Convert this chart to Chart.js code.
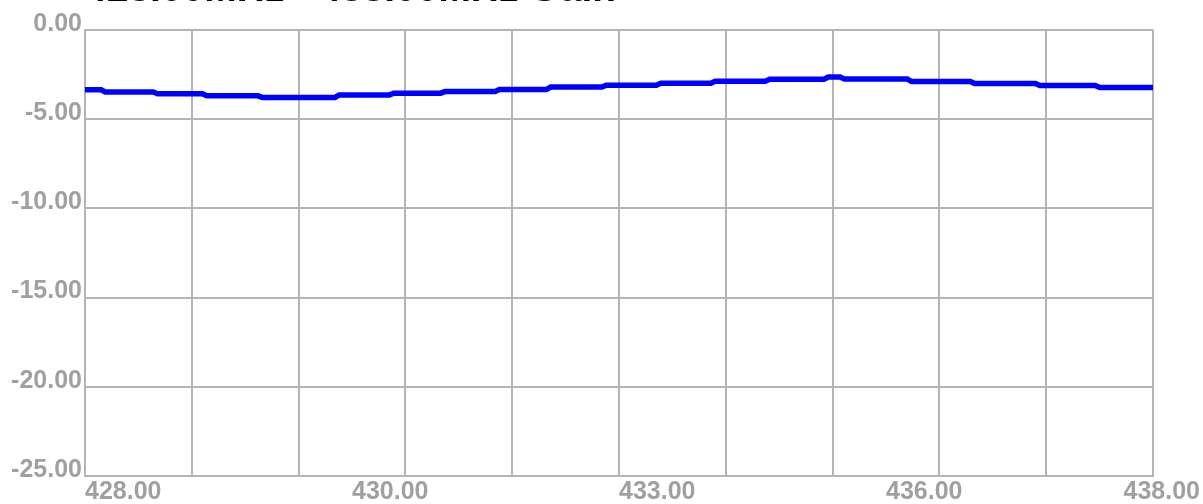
<!DOCTYPE html>
<html>
<head>
<meta charset="utf-8">
<script src="https://cdn.jsdelivr.net/npm/chart.js@4"></script>
<style>
  html, body { margin: 0; padding: 0; background: #ffffff; }
  #wrap { width: 1203px; height: 504px; }
</style>
</head>
<body>
<div id="wrap"><canvas id="c" width="1203" height="504"></canvas></div>
<script>
// ---- data ----
const titleText = "428.00MHz - 438.00MHz Gain";
const freqs = [428.00, 428.15, 428.19, 428.64, 428.68, 429.10, 429.14, 429.62, 429.66, 430.34,
               430.38, 430.85, 430.89, 431.33, 431.37, 431.84, 431.88, 432.32, 432.36, 432.84,
               432.88, 433.35, 433.39, 433.86, 433.90, 434.37, 434.41, 434.92, 434.96, 435.07,
               435.11, 435.70, 435.74, 436.29, 436.33, 436.90, 436.94, 437.46, 437.50, 438.00];
const gains = [-3.36, -3.36, -3.48, -3.48, -3.59, -3.59, -3.70, -3.70, -3.79, -3.79,
               -3.66, -3.66, -3.55, -3.55, -3.46, -3.46, -3.35, -3.35, -3.21, -3.21,
               -3.10, -3.10, -2.99, -2.99, -2.88, -2.88, -2.77, -2.77, -2.65, -2.65,
               -2.76, -2.76, -2.90, -2.90, -3.01, -3.01, -3.12, -3.12, -3.23, -3.23];
const gridFreqs = [428, 429, 430, 431, 432, 433, 434, 435, 436, 437, 438];
const xLabelValues = [428, 430.5, 433, 435.5, 438];
const xLabelTexts = ["428.00", "430.00", "433.00", "436.00", "438.00"];
const yMin = -25, yMax = 0, yStep = 5;

// ---- chart ----
Chart.defaults.font.family = "'Liberation Sans', Arial, sans-serif";
const GRID = '#b4b4b4';
const TICK = '#a0a0a0';

const clampLabels = {
  id: 'clampLabels',
  beforeDraw(chart) {
    const scale = chart.scales.x;
    const items = scale.getLabelItems();
    const ctx = chart.ctx;
    items.forEach(it => {
      ctx.save();
      ctx.font = it.font.string;
      const w = ctx.measureText(String(it.label)).width;
      ctx.restore();
      const o = it.options;
      if (o.textAlign === 'left' && o.translation[0] + w > chart.width - 3) {
        o.textAlign = 'right';
        o.translation[0] = chart.width - 3;
      }
    });
  }
};

const pts = freqs.map((f, i) => ({ x: f, y: gains[i] }));

new Chart(document.getElementById('c'), {
  type: 'line',
  data: {
    datasets: [{
      data: pts,
      borderColor: '#0000ff',
      borderWidth: 5.5,
      pointRadius: 0,
      tension: 0,
      fill: false
    }]
  },
  options: {
    responsive: false,
    animation: false,
    layout: { padding: { left: 0, right: 50, top: 0, bottom: 0 } },
    plugins: {
      legend: { display: false },
      tooltip: { enabled: false },
      title: {
        display: true,
        text: titleText,
        align: 'start',
        fullSize: false,
        color: '#000000',
        font: { size: 39, weight: 'bold' },
        padding: { top: -33, bottom: 16 }
      }
    },
    scales: {
      x: {
        type: 'linear',
        min: 428,
        max: 438,
        afterBuildTicks(scale) {
          const vals = Array.from(new Set(gridFreqs.concat(xLabelValues))).sort((a, b) => a - b);
          scale.ticks = vals.map(v => ({ value: v }));
        },
        afterFit(scale) {
          scale.height = 28;
          scale.paddingLeft = 0;
          scale.paddingRight = 0;
        },
        ticks: {
          autoSkip: false,
          maxRotation: 0,
          minRotation: 0,
          align: 'start',
          padding: 1,
          color: TICK,
          font: { size: 25, weight: 'bold' },
          callback(v) {
            const i = xLabelValues.indexOf(v);
            return i >= 0 ? xLabelTexts[i] : '';
          }
        },
        grid: {
          drawTicks: false,
          lineWidth: 2,
          color(ctx) {
            return (ctx.tick && gridFreqs.indexOf(ctx.tick.value) >= 0) ? GRID : 'rgba(0,0,0,0)';
          }
        },
        border: { color: GRID, width: 2 }
      },
      y: {
        type: 'linear',
        min: yMin,
        max: yMax,
        afterFit(scale) {
          scale.width = 85;
          scale.paddingTop = 0;
          scale.paddingBottom = 0;
        },
        ticks: {
          stepSize: yStep,
          padding: 3,
          labelOffset: -6,
          color: TICK,
          font: { size: 25, weight: 'bold' },
          callback(v) { return Number(v).toFixed(2); }
        },
        grid: { drawTicks: false, lineWidth: 2, color: GRID },
        border: { color: GRID, width: 2 }
      }
    }
  },
  plugins: [clampLabels]
});
</script>
</body>
</html>
